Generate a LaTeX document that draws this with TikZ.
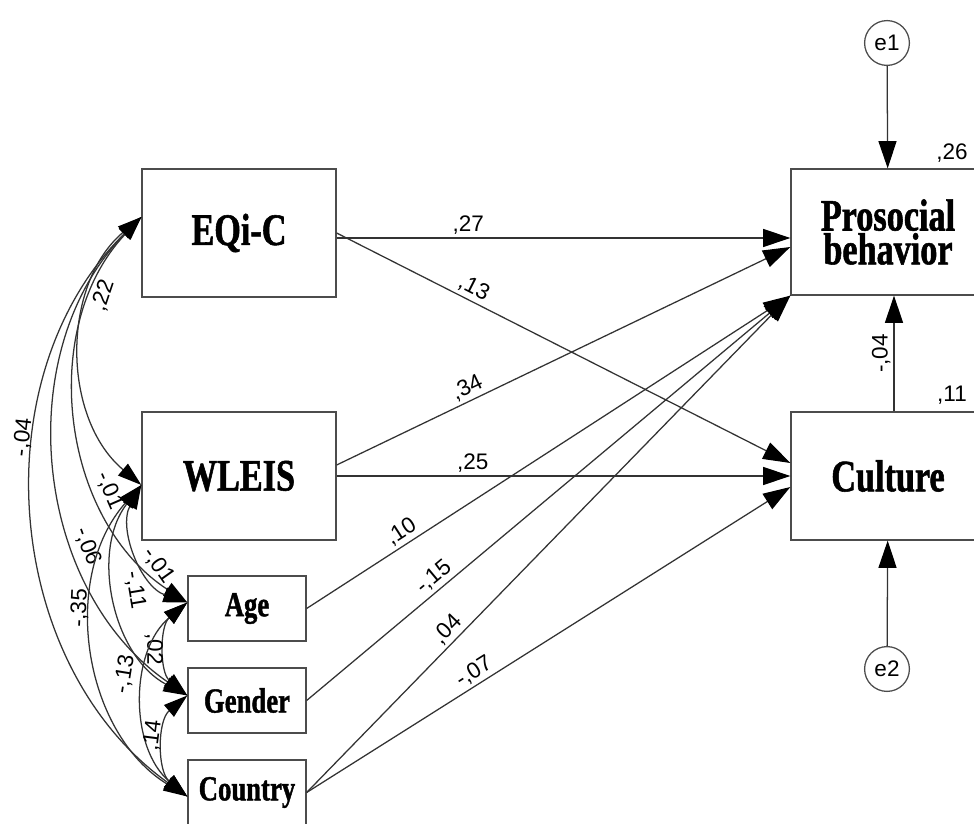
\documentclass[tikz,border=0pt]{standalone}
\usepackage{fontspec}
\setmainfont{Liberation Serif}
\newfontfamily\boxfont{Liberation Serif}[FakeStretch=0.76, FakeBold=1.2]
\newfontfamily\labfont{Liberation Sans}
\usetikzlibrary{arrows.meta,positioning}

\begin{document}
\begin{tikzpicture}[x=0.025cm, y=0.025cm, >={Triangle[length=0.68cm,width=0.45cm,color=black]},
                    every edge/.style={draw=black!80, line width=0.9pt},
                    box/.style={draw=black!70, line width=0.9pt, inner sep=0pt},
                    bigbox/.style={box, minimum width=4.85cm, minimum height=3.2cm, align=center,
                                   font=\boxfont\bfseries\fontsize{32}{24}\selectfont},
                    smallbox/.style={box, minimum width=2.95cm, minimum height=1.625cm,
                                   font=\boxfont\bfseries\fontsize{25}{25}\selectfont},
                    err/.style={circle, draw=black!70, line width=0.9pt, minimum size=1.12cm, inner sep=0pt,
                                font=\labfont\fontsize{16}{16}\selectfont},
                    lab/.style={font=\labfont\fontsize{16}{16}\selectfont, inner sep=2pt},
                    cov/.style={<->, >={Triangle[length=0.6cm,width=0.38cm,color=black]}}]
\useasboundingbox (0,0) rectangle (974,823);

% predictors
\node[bigbox] (eqi) at (239,590) {EQi-C};
\node[bigbox] (wleis) at (239,347) {WLEIS};
\node[smallbox] (age) at (247,214.5) {Age};
\node[smallbox] (gender) at (247,122.5) {Gender};
\node[smallbox] (country) at (247,30.5) {Country};

% outcomes
\node[bigbox, minimum height=3.15cm] (pro) at (888,591) {Prosocial\\behavior};
\node[bigbox] (cul) at (888,347) {Culture};
\node[err] (e1) at (887,780) {e1};
\node[err] (e2) at (887,154) {e2};
\node[lab] (r1) at (952,670) {,26};
\node[lab] (r2) at (952,428) {,11};

% ends of the covariances
\coordinate (eqiC) at ([shift={(0,16)}]eqi.west);
\coordinate (wleisC) at ([shift={(0,-9)}]wleis.west);
\coordinate (ageC) at ([shift={(0,6)}]age.west);
\coordinate (genderC) at ([shift={(0,5)}]gender.west);
\coordinate (countryC) at ([shift={(0,-4)}]country.west);

\path[->]
([shift={(0,-5)}]eqi.east) edge node[lab, sloped, above, pos=.29] {,27} ([shift={(0,-6)}]pro.west)
(eqi.east) edge node[lab, sloped, above, pos=.29] {,13} ([shift={(0,13)}]cul.west)
([shift={(0,11)}]wleis.east) edge node[lab, sloped, above, pos=.3] {,34} ([shift={(0,-15)}]pro.west)
(wleis.east) edge node[lab, sloped, above, pos=.3] {,25} (cul.west)
(age.east) edge node[lab, sloped, above, pos=.21] {,10} (pro.south west)
(gender.east) edge node[lab, sloped, above, pos=.28] {-,15} (pro.south west)
(country.east) edge node[lab, sloped, above, pos=.31] {,04} (pro.south west)
(country.east) edge node[lab, sloped, above, pos=.36] {-,07} ([shift={(0,-11)}]cul.west)
([shift={(6,0)}]cul.north) edge node[lab, sloped, above, pos=.5] {-,04} ([shift={(6,0)}]pro.south)
(e1) edge (pro)
(e2) edge (cul);

\path[cov]
(eqiC) edge[bend right=50] node[lab, sloped, below, pos=.3] {,22} (wleisC)
(eqiC) edge[bend right=50] node[lab, sloped, above, pos=.68] {-,01} (ageC)
(eqiC) edge[bend right=50] node[lab, sloped, above, pos=.66] {-,06} (genderC)
(eqiC) edge[bend right=50] node[lab, sloped, above, pos=.38] {-,04} (countryC)
(wleisC) edge[bend right=50] node[lab, sloped, above, pos=.65] {-,01} (ageC)
(wleisC) edge[bend right=50] node[lab, sloped, above=5pt, pos=.47] {-,11} (genderC)
(wleisC) edge[bend right=50] node[lab, sloped, above, pos=.38] {-,35} (countryC)
(ageC) edge[bend right=50] node[lab, sloped, below, pos=.5] {,02} (genderC)
(ageC) edge[bend right=50] node[lab, sloped, above=6pt, pos=.4] {-,13} (countryC)
(genderC) edge[bend right=50] node[lab, sloped, above, pos=.42] {,14} (countryC);
\end{tikzpicture}
\end{document}
